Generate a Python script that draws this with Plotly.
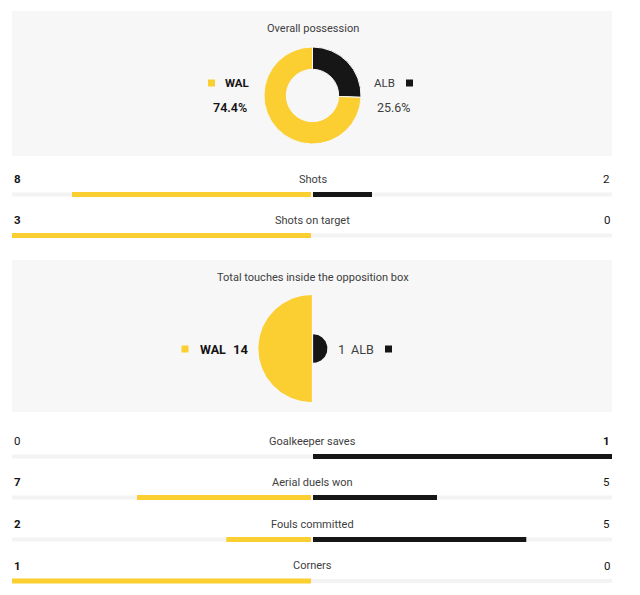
import math
import plotly.graph_objects as go

# ---------------- data ----------------
teams = ["WAL", "ALB"]
possession = [74.4, 25.6]
touches_title = "Total touches inside the opposition box"
touches = [14, 1]
stat_names = ["Shots", "Shots on target", "Goalkeeper saves",
              "Aerial duels won", "Fouls committed", "Corners"]
wal_vals = [8, 3, 0, 7, 2, 1]
alb_vals = [2, 0, 1, 5, 5, 0]
wal_bold = [True, True, False, True, True, True]
alb_bold = [False, False, True, False, False, False]

# ---------------- layout constants ----------------
W, H = 640, 595
YEL = "#fbcf31"
BLK = "#161616"
PANEL = "#f7f7f7"
TRACK = "#f3f3f3"
TXT = "#141414"
LBL = "#404040"
FONT = "Roboto"
LEFT, RIGHT = 12, 612
label_y = [179, 220, 441, 482, 524, 565.5]
BAR_DY = 15.5
BAR_T = 5
GAP = 2.0 / (RIGHT - LEFT)  # ~1px in bar units

fig = go.Figure()

# panels
for (y0, y1) in [(11, 156), (260, 412)]:
    fig.add_shape(type="rect", xref="x", yref="y", x0=LEFT, x1=RIGHT, y0=y0, y1=y1,
                  fillcolor=PANEL, line_width=0, layer="below")

# ---- possession donut (ALB slice clockwise from 12 o'clock) ----
cx, cy, R = 312.5, 95.5, 48.5
fig.add_trace(go.Pie(
    values=possession[::-1], labels=teams[::-1], sort=False, direction="clockwise",
    rotation=0, hole=0.54, textinfo="none", hoverinfo="label+percent",
    marker=dict(colors=[BLK, YEL], line=dict(color=PANEL, width=1)),
    domain=dict(x=[(cx - R) / W, (cx + R) / W], y=[1 - (cy + R) / H, 1 - (cy - R) / H]),
    showlegend=False))

# ---- touches semicircles (area proportional) ----
RMAX = 53.5
tcx, tcy = 312.5, 348.5
vmax = max(touches)
n = 80
for i, (v, col) in enumerate(zip(touches, [YEL, BLK])):
    r = RMAX * math.sqrt(v / vmax)
    side = -1 if i == 0 else 1
    off = -0.6 if i == 0 else 0.6
    xs = [tcx + off + side * r * math.sin(math.pi * k / n) for k in range(n + 1)]
    ys = [tcy - r * math.cos(math.pi * k / n) for k in range(n + 1)]
    fig.add_trace(go.Scatter(x=xs, y=ys, fill="toself", fillcolor=col, mode="lines",
                             line=dict(width=0, color=col), hoverinfo="skip",
                             showlegend=False, xaxis="x", yaxis="y"))

# legend squares
fig.add_trace(go.Scatter(x=[211.5, 409.5, 185, 388.5], y=[83, 83, 349, 349], mode="markers",
                         marker=dict(symbol="square", size=7, color=[YEL, BLK, YEL, BLK]),
                         hoverinfo="skip", showlegend=False, xaxis="x", yaxis="y"))

# ---- stat bars ----
bar_y = [y + BAR_DY for y in label_y]
fig.add_trace(go.Bar(y=bar_y, x=[2] * len(bar_y), base=[-1] * len(bar_y), orientation="h",
                     width=BAR_T - 1, marker=dict(color=TRACK, line_width=0),
                     hoverinfo="skip", showlegend=False, xaxis="x2", yaxis="y2"))
wal_frac = [a / (a + b) if a + b else 0 for a, b in zip(wal_vals, alb_vals)]
alb_frac = [b / (a + b) if a + b else 0 for a, b in zip(wal_vals, alb_vals)]
fig.add_trace(go.Bar(y=bar_y, x=[-max(f - GAP, 0) for f in wal_frac], base=[-GAP] * len(bar_y),
                     orientation="h", width=BAR_T, marker=dict(color=YEL, line_width=0),
                     customdata=wal_vals, hovertemplate="WAL %{customdata}<extra></extra>",
                     showlegend=False, xaxis="x2", yaxis="y2"))
fig.add_trace(go.Bar(y=bar_y, x=[max(f - GAP, 0) for f in alb_frac], base=[GAP] * len(bar_y),
                     orientation="h", width=BAR_T, marker=dict(color=BLK, line_width=0),
                     customdata=alb_vals, hovertemplate="ALB %{customdata}<extra></extra>",
                     showlegend=False, xaxis="x2", yaxis="y2"))

ann = []
def A(x, y, text, size=11, color=TXT, weight="normal", xanchor="center"):
    ann.append(dict(x=x, y=y, xref="x", yref="y", text=text, showarrow=False,
                    xanchor=xanchor, yanchor="middle",
                    font=dict(family=FONT, size=size, color=color, weight=weight)))

for name, ly, a, b, ab, bb in zip(stat_names, label_y, wal_vals, alb_vals, wal_bold, alb_bold):
    A(312.5, ly, name, color=LBL)
    A(LEFT, ly, str(a), size=11.5, weight="bold" if ab else "normal", xanchor="left")
    A(RIGHT, ly, str(b), size=11.5, weight="bold" if bb else "normal", xanchor="right")

A(312.5, 28, "Overall possession", color=LBL)
A(223, 83, teams[0], size=11.5, weight="bold", xanchor="left")
A(397, 83, teams[1], size=11.5, color=LBL, xanchor="right")
A(249, 107, f"{possession[0]}%", size=12.5, weight=600, xanchor="right")
A(375, 107, f"{possession[1]}%", size=12.5, color=LBL, xanchor="left")

A(312.5, 277, touches_title, color=LBL)
A(198, 349.5, teams[0], size=12.5, weight="bold", xanchor="left")
A(250, 349.5, str(touches[0]), size=13, weight="bold", xanchor="right")
A(336, 349.5, str(touches[1]), size=13, color=LBL, xanchor="left")
A(376, 349.5, teams[1], size=12.5, color=LBL, xanchor="right")

hid = dict(visible=False, fixedrange=True)
fig.update_layout(
    width=W, height=H, margin=dict(l=0, r=0, t=0, b=0),
    paper_bgcolor="white", plot_bgcolor="rgba(0,0,0,0)",
    barmode="overlay", annotations=ann,
    xaxis=dict(domain=[0, 1], range=[0, W], **hid),
    yaxis=dict(domain=[0, 1], range=[H, 0], **hid),
    xaxis2=dict(domain=[LEFT / W, RIGHT / W], range=[-1, 1], anchor="y2", **hid),
    yaxis2=dict(domain=[0, 1], range=[H, 0], anchor="x2", overlaying="y", **hid),
)
fig.write_html("out.html")
